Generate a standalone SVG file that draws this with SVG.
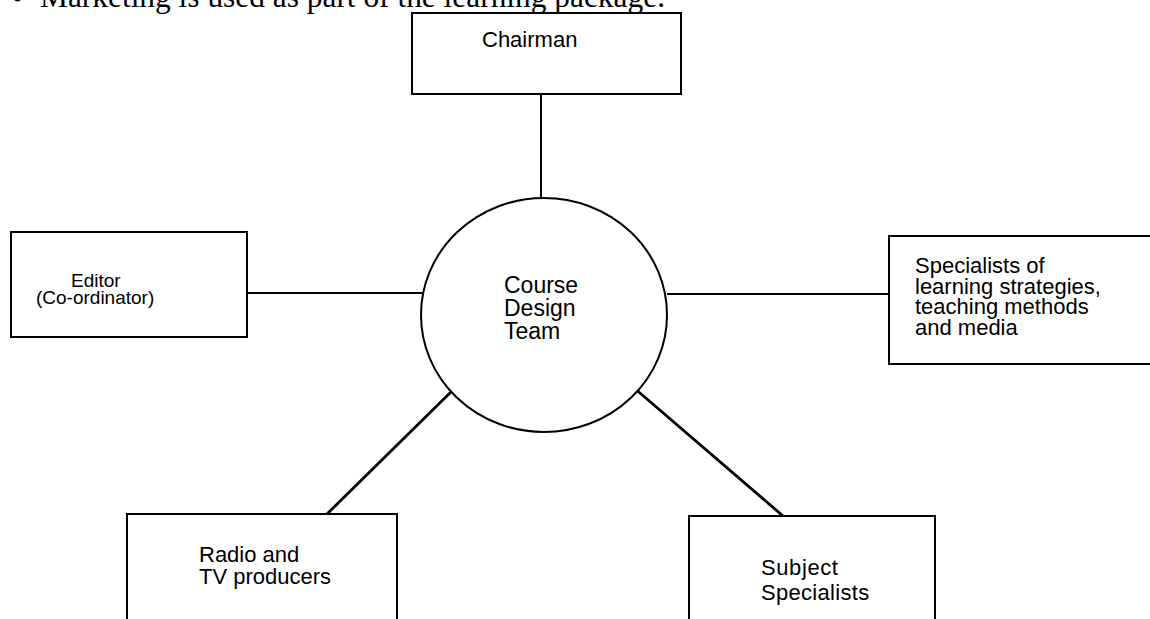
<svg xmlns="http://www.w3.org/2000/svg" width="1150" height="619" viewBox="0 0 1150 619">
<style>
.box{fill:#fff;stroke:#000;stroke-width:2}
.lbl{font-family:"Liberation Sans",Arial,sans-serif;font-size:22px;fill:#000}
.ed{font-size:19px}
.conn line{stroke:#000;stroke-width:2}
.conn .diag{stroke-width:2.8}
.top{font-family:"Liberation Serif","Times New Roman",serif;font-size:31.4px;fill:#000}
</style>
<rect width="1150" height="619" fill="#fff"/>
<text class="top" x="12" y="9">•</text>
<text class="top" x="40" y="7">Marketing is used as part of the learning package.</text>
<g class="conn" id="connectors">
<line x1="541" y1="94" x2="541" y2="198"/>
<line x1="247" y1="293" x2="422" y2="293"/>
<line x1="667" y1="294" x2="889" y2="294"/>
<line class="diag" x1="457" y1="386" x2="327" y2="514"/>
<line class="diag" x1="633" y1="387" x2="783" y2="516"/>
</g>
<g id="chairman">
<rect class="box" x="412" y="13" width="269" height="81"/>
<text class="lbl" x="482" y="47">Chairman</text>
</g>
<g id="course-design-team">
<ellipse class="box" cx="544" cy="315" rx="123" ry="117"/>
<text class="lbl" x="504" y="292.5" style="font-size:23px">Course</text>
<text class="lbl" x="504" y="315.5" style="font-size:23px">Design</text>
<text class="lbl" x="504" y="339" style="font-size:23px">Team</text>
</g>
<g id="editor">
<rect class="box" x="11" y="232" width="236" height="105"/>
<text class="lbl ed" x="71" y="287">Editor</text>
<text class="lbl ed" x="36" y="304">(Co-ordinator)</text>
</g>
<g id="specialists-learning">
<rect class="box" x="889" y="236" width="270" height="128"/>
<text class="lbl" x="915" y="273">Specialists of</text>
<text class="lbl" x="915" y="293.5">learning strategies,</text>
<text class="lbl" x="915" y="314">teaching methods</text>
<text class="lbl" x="915" y="335">and media</text>
</g>
<g id="radio-tv">
<rect class="box" x="127" y="514" width="270" height="115"/>
<text class="lbl" x="199" y="562">Radio and</text>
<text class="lbl" x="199" y="583.5">TV producers</text>
</g>
<g id="subject-specialists">
<rect class="box" x="689" y="516" width="246" height="115"/>
<text class="lbl" x="761" y="575" style="letter-spacing:0.6px">Subject</text>
<text class="lbl" x="761" y="600" style="letter-spacing:0.3px">Specialists</text>
</g>
</svg>
